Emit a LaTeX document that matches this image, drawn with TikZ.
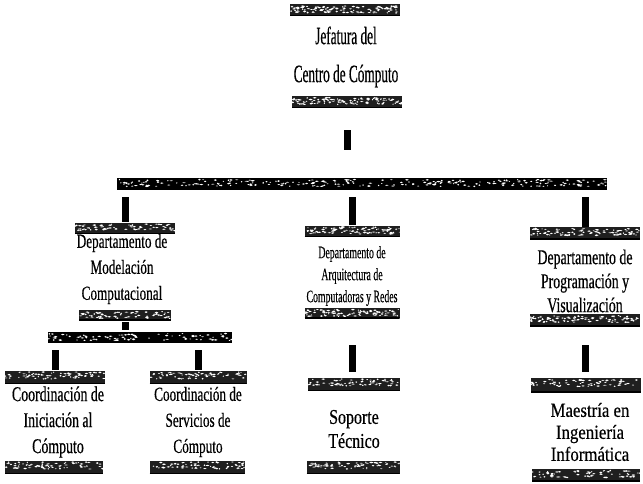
\documentclass[tikz,border=0pt]{standalone}
\usepackage{fontspec}
\setmainfont{Liberation Serif}
% condensed cuts of the serif used for the box titles
\newfontfamily\fTop[FakeStretch=0.53,FakeBold=0.4]{Liberation Serif}
\newfontfamily\fDept[FakeStretch=0.66,FakeBold=0.4]{Liberation Serif}
\newfontfamily\fSmall[FakeStretch=0.56,FakeBold=0.3]{Liberation Serif}
\newfontfamily\fPlain[FakeStretch=0.76,FakeBold=0.4]{Liberation Serif}
\newfontfamily\fWide[FakeStretch=0.84,FakeBold=0.4]{Liberation Serif}
\usetikzlibrary{calc,shapes.geometric}
\tikzset{speckles/.store in=\nspk, speckles=70}
\begin{document}
\begin{tikzpicture}[x=1pt,y=-1pt,
  banner/.style={trapezium, trapezium left angle=72, trapezium right angle=108,
    trapezium stretches body, fill=black!88, inner sep=0pt, minimum height=11pt,
    path picture={
      \foreach \k in {1,...,\nspk}{
        \fill[white] ($(path picture bounding box.north west)!rnd!(path picture bounding box.north east)+(0,{1.5+rnd*7})$)
          ellipse [x radius={0.6+rnd*1.4}, y radius={0.4+rnd*0.5}];
      }
      \draw[line width=1.8pt] (path picture bounding box.south west) -- (path picture bounding box.south east);
    }},
  stub/.style={line width=7pt},
  title/.style={align=center, inner sep=0pt, text=black},
]
\pgfmathsetseed{12}
\useasboundingbox (0,0) rectangle (643,484);

% head office
\node[banner, minimum width=110pt, speckles=110] (jefT) at (345,10) {};
\node[title, font=\fTop\fontsize{25}{38}\selectfont] (jef) at (346,57) {Jefatura del\\Centro de Cómputo};
\node[banner, minimum width=110pt, minimum height=12pt, speckles=110] (jefB) at (347,102) {};

% main distribution bar
\node[banner, minimum width=490pt, minimum height=12pt, speckles=260, fill=black] (bus) at (362,184) {};
\draw[stub, shorten <=22pt, shorten >=28pt] (jefB.south) -- (jefB.south |- bus.north);

% left department
\node[banner, minimum width=100pt] (lT) at (125,228) {};
\node[title, font=\fDept\fontsize{20}{26}\selectfont] (ldep) at (122,269) {Departamento de\\Modelación\\Computacional};
\node[banner, minimum width=92pt, minimum height=10pt] (lB) at (125,315) {};
\draw[stub, shorten <=7pt] (bus.south -| lT.north) -- (lT.north);

% left sub-bar and coordinations
\node[banner, minimum width=184pt, minimum height=10pt, speckles=90, fill=black] (lbus) at (140,337) {};
\draw[stub, shorten <=2pt, shorten >=2pt] (lB.south) -- (lB.south |- lbus.north);

\node[banner, minimum width=100pt, minimum height=13pt] (c1T) at (55,377) {};
\node[title, font=\fDept\fontsize{21}{26}\selectfont] (c1) at (58,422) {Coordinación de\\Iniciación al\\Cómputo};
\node[banner, minimum width=98pt, minimum height=13pt] (c1B) at (54,467) {};
\draw[stub, shorten <=8pt] (lbus.south -| c1T.north) -- (c1T.north);

\node[banner, minimum width=97pt, minimum height=13pt] (c2T) at (198,377) {};
\node[title, font=\fDept\fontsize{20}{26}\selectfont] (c2) at (198,422) {Coordinación de\\Servicios de\\Cómputo};
\node[banner, minimum width=95pt, minimum height=13pt] (c2B) at (197,467) {};
\draw[stub, shorten <=8pt] (lbus.south -| c2T.north) -- (c2T.north);

% middle department
\node[banner, minimum width=95pt, speckles=100] (mT) at (352,231) {};
\node[title, font=\fSmall\fontsize{17.5}{22}\selectfont] (mdep) at (352,276) {Departamento de\\Arquitectura de\\Computadoras y Redes};
\node[banner, minimum width=95pt, minimum height=10pt, speckles=100] (mB) at (352,313) {};
\draw[stub, shorten <=7pt] (bus.south -| mT.north) -- (mT.north);

\node[banner, minimum width=92pt, minimum height=13pt] (sT) at (354,384) {};
\node[title, font=\fPlain\fontsize{21}{24}\selectfont] (sop) at (354,429) {Soporte\\Técnico};
\node[banner, minimum width=93pt, minimum height=13pt] (sB) at (353,467) {};
\draw[stub, shorten <=27pt, shorten >=5pt] (mB.south) -- (mB.south |- sT.north);

% right department
\node[banner, minimum width=110pt, minimum height=12pt, speckles=100] (rT) at (585,233) {};
\node[title, font=\fDept\fontsize{21}{24}\selectfont] (rdep) at (585,281) {Departamento de\\Programación y\\Visualización};
\node[banner, minimum width=110pt, minimum height=12pt, speckles=100] (rB) at (585,320) {};
\draw[stub, shorten <=7pt] (bus.south -| rT.north) -- (rT.north);

\node[banner, minimum width=110pt, minimum height=14pt] (aT) at (586,385) {};
\node[title, font=\fWide\fontsize{20}{22}\selectfont] (mae) at (590,432) {Maestría en\\Ingeniería\\Informática};
\node[banner, minimum width=108pt, minimum height=12pt] (aB) at (586,475) {};
\draw[stub, shorten <=19pt, shorten >=6pt] (rB.south) -- (rB.south |- aT.north);
\end{tikzpicture}
\end{document}
